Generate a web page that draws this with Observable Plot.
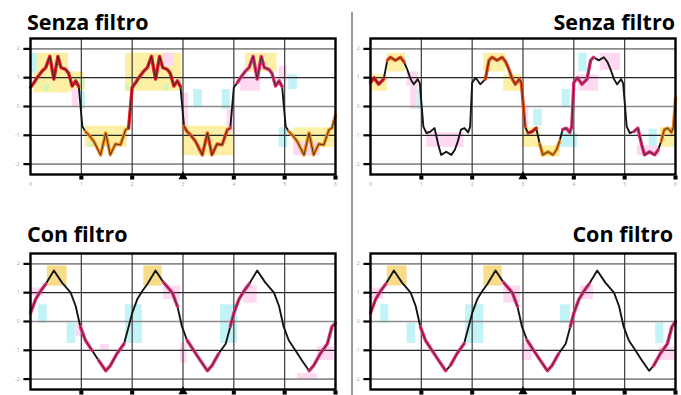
<!DOCTYPE html>
<html><head><meta charset="utf-8">
<script src="https://cdn.jsdelivr.net/npm/d3@7"></script>
<script src="https://cdn.jsdelivr.net/npm/@observablehq/plot@0.6"></script>
<style>
body{margin:0;background:#fff;}
#c{position:relative;width:681px;height:395px;overflow:hidden;font-family:"Open Sans",sans-serif;background:#fff;}
.t{position:absolute;font-weight:bold;font-size:21.5px;line-height:22px;color:#000;white-space:nowrap;}
.p{position:absolute;}
.div{position:absolute;left:351px;top:12px;width:1.5px;height:383px;background:#9a9a9a;}
</style>
</head><body><div id="c"></div>
<script>
// ---- data ----
const titlesTop = ["Senza filtro", "Senza filtro"];
const titlesBottom = ["Con filtro", "Con filtro"];
const xTicks = [0, 1, 2, 3, 4, 5, 6];
const xGrid = [1, 2, 3, 4, 5];
const xDots = [1, 2, 4, 5, 6];
const xTrigger = [3];
const yTicks = [-2, -1, 0, 1, 2];
const periodStarts = [0, 2, 4];

// top-left: one period (phase in divisions, value in divisions)
const tlPhase = [0, 0.07, 0.13, 0.23, 0.30, 0.38, 0.46, 0.54, 0.60, 0.69, 0.75, 0.82, 0.89, 0.95, 1.02, 1.08, 1.15, 1.25, 1.38, 1.48, 1.57, 1.67, 1.77, 1.87, 1.93];
const tlValue = [0.66, 0.83, 1.0, 1.23, 1.35, 1.74, 0.95, 1.74, 1.35, 1.29, 1.15, 0.71, 0.89, 0.69, -0.69, -0.87, -0.99, -1.22, -1.68, -0.92, -1.68, -1.3, -1.33, -0.81, -0.75];
const tlEnd = [6, -0.3];

// top-right
const trPhase = [0, 0.07, 0.16, 0.26, 0.33, 0.39, 0.49, 0.59, 0.66, 0.72, 0.79, 0.85, 0.93, 0.97, 1.04, 1.10, 1.18, 1.26, 1.33, 1.39, 1.49, 1.59, 1.66, 1.72, 1.78, 1.85, 1.92, 1.96];
const trValue = [0.83, 1.0, 0.77, 0.95, 1.6, 1.71, 1.6, 1.71, 1.55, 1.3, 0.95, 0.77, 0.95, 0.8, -0.7, -0.92, -0.87, -0.75, -1.3, -1.68, -1.57, -1.68, -1.5, -1.2, -0.8, -0.75, -0.9, -0.7];
const trEnd = [6, 0.3];

// bottom (filtered)
const bPhase = [0, 0.10, 0.20, 0.30, 0.46, 0.62, 0.79, 0.89, 0.98, 1.08, 1.21, 1.34, 1.48, 1.57, 1.70, 1.84, 1.93];
const bValue = [0.29, 0.77, 1.06, 1.30, 1.77, 1.35, 1.0, 0.53, -0.18, -0.65, -1.0, -1.35, -1.71, -1.53, -1.12, -0.77, -0.18];
const blEnd = [6, -0.05];
const brEnd = [6, 0.0];

// coloured trace stretches [from, to, colour class]
const tlSegs = [[0,0.95,"r"],[1.08,1.93,"o"],[1.93,2.98,"r"],[3.02,3.95,"ro"],[4.02,4.95,"m"],[5.08,6,"o"]];
const trSegs = [[0,0.26,"r"],[0.33,0.66,"ro"],[2.2,3.05,"ro"],[3.05,3.3,"r"],[3.3,3.72,"o"],[3.72,4.4,"m"],[5.15,5.7,"m"],[5.7,6,"o"]];
const blSegs = [[0,0.35,"m"],[0.92,1.31,"m"],[1.34,1.9,"m"],[2.6,2.95,"m"],[3.0,3.7,"m"],[3.87,4.4,"m"],[5.45,6,"m"]];
const brSegs = [[0,0.3,"m"],[0.95,1.5,"m"],[1.5,1.85,"m"],[2.6,2.95,"m"],[3.0,3.7,"m"],[3.85,4.4,"m"],[5.5,6,"m"]];

// highlight boxes [x1, x2, y1, y2, kind]
const tlRects = [
  [0.07,0.75,0.47,1.85,"y"],[0,0.13,1.16,1.85,"c"],[0.72,1.05,0.5,1.2,"y"],[0.26,0.39,0.53,0.76,"g"],
  [0.98,1.08,0.59,0.99,"g"],[0.82,0.95,0.0,0.6,"p"],[0.98,1.08,-0.1,0.53,"c"],
  [1.08,1.9,-1.42,-0.68,"y"],[1.15,1.25,-1.42,-1.2,"g"],
  [1.87,2.98,0.53,1.85,"y"],[1.87,1.97,0.53,0.76,"g"],[2.62,2.72,0.53,0.76,"g"],[2.62,2.82,1.39,1.85,"p"],
  [2.98,3.11,-0.79,0.47,"p"],[3.21,3.38,-0.05,0.59,"c"],[3.77,3.93,-0.1,0.59,"c"],
  [2.98,4.0,-1.71,-0.68,"y"],[3.87,4.0,-0.91,-0.1,"p"],
  [4.23,4.85,1.2,1.85,"y"],[4.13,4.52,0.53,1.04,"p"],[4.89,5.05,0.87,1.39,"p"],[5.08,5.25,0.59,1.1,"c"],
  [4.89,5.06,-1.42,-0.74,"c"],[5.18,6.0,-1.42,-0.74,"y"],[5.18,5.7,-1.71,-1.25,"p"]
];
const trRects = [
  [0,0.33,0.53,1.1,"y"],[0.33,0.69,1.2,1.85,"y"],[0.72,0.95,0.7,1.2,"p"],[0.79,0.92,-0.1,0.7,"p"],
  [0.92,1.02,-0.1,0.59,"c"],[1.11,1.84,-1.42,-0.91,"p"],
  [2.23,2.66,1.2,1.85,"y"],[2.62,2.98,0.53,1.1,"y"],[3.77,3.93,-0.05,0.59,"c"],
  [2.98,3.34,-1.42,-0.74,"y"],[3.34,3.74,-1.75,-1.36,"y"],[3.21,3.38,-0.68,-0.1,"c"],
  [3.74,4.07,-1.42,-0.91,"c"],[2.98,3.11,-0.79,0.0,"p"],
  [4.10,4.26,1.2,1.85,"c"],[4.10,4.49,0.53,1.1,"p"],[4.52,4.92,1.25,1.85,"p"],
  [5.48,5.64,-1.42,-0.79,"c"],[5.25,5.70,-1.71,-1.36,"p"],[5.70,6.0,-1.42,-0.74,"y"]
];
const blRects = [
  [0.33,0.72,1.23,1.93,"Y"],[0,0.26,0.88,1.16,"p"],[0.16,0.33,-0.06,0.58,"c"],[0.72,0.89,-0.76,-0.06,"c"],
  [0.89,1.05,-0.53,-0.06,"p"],[1.87,2.2,-0.76,0.58,"c"],[1.38,1.55,-1.0,-0.8,"p"],
  [2.23,2.59,1.23,1.93,"Y"],[2.62,2.95,0.76,1.23,"p"],[2.95,3.08,-1.46,-0.76,"p"],
  [3.74,4.07,-0.76,0.58,"c"],[4.2,4.46,0.64,1.23,"p"],[5.25,5.64,-2.05,-1.81,"p"],[5.64,5.97,-1.35,-0.88,"p"]
];
const brRects = [
  [0.33,0.72,1.23,1.93,"Y"],[0,0.26,0.76,1.16,"p"],[0.2,0.36,-0.06,0.58,"c"],[0.72,0.89,-0.76,-0.06,"c"],
  [1.87,2.23,-0.76,0.58,"c"],[2.23,2.59,1.23,1.93,"Y"],[2.62,2.95,0.64,1.23,"p"],
  [2.98,3.18,-1.35,-0.76,"p"],[3.74,3.93,-0.06,0.58,"c"],[4.13,4.39,0.76,1.23,"p"],
  [5.61,5.77,-0.76,-0.06,"c"],[5.68,6.0,-1.35,-0.88,"p"]
];

// ---- styles ----
const boxColor = {y:"#fdf0a4", Y:"#f8dc8a", c:"#c2f3f6", p:"#ffd9f1", g:"#d9f4b8"};
const traceColor = {r:"#e3222c", o:"#f08a1c", ro:"#ea521f", m:"#e2337a"};

function trace(phase, value, end) {
  const pts = [];
  for (const s of periodStarts) phase.forEach((p, i) => pts.push({x: s + p, y: value[i]}));
  pts.push({x: end[0], y: end[1]});
  return pts;
}

function panel(opts) {
  const {pts, segs, rects, width, mr, mb, height, xLabels} = opts;
  const segMarks = [];
  for (const [a, b, k] of segs) {
    const sub = pts.filter(d => d.x >= a && d.x <= b);
    segMarks.push(Plot.line(sub, {x: "x", y: "y", stroke: traceColor[k], strokeWidth: 3.4, strokeLinejoin: "round"}));
    segMarks.push(Plot.line(sub, {x: "x", y: "y", stroke: "#1a1a1a", strokeWidth: 0.9, strokeLinejoin: "round", strokeOpacity: 0.85}));
  }
  const marks = [
    Plot.rect(rects, {x1: d => d[0], x2: d => d[1], y1: d => d[2], y2: d => d[3], fill: d => boxColor[d[4]]}),
    Plot.ruleY(yTicks, {stroke: d => Math.abs(d) === 1 ? "#262626" : "#8c8c8c", strokeWidth: d => Math.abs(d) === 1 ? 1.3 : 1.6}),
    Plot.ruleX(xGrid, {stroke: "#3a3a3a", strokeWidth: 1.2}),
    Plot.line(pts, {x: "x", y: "y", stroke: "#151515", strokeWidth: 1.9, strokeLinejoin: "round"}),
    ...segMarks,
    Plot.frame({stroke: "#000", strokeWidth: 2.4}),
    Plot.ruleY(yTicks, {x1: -0.13, x2: 0, stroke: "#000", strokeWidth: 2.2}),
    Plot.text(yTicks, {x: 0, y: d => d, dx: -11, text: d => String(d), textAnchor: "end", fontSize: 5, fill: "#aaa"}),
    Plot.dot(xDots, {x: d => d, y: -2.36, dy: 3, symbol: "square", r: 2.3, fill: "#000"}),
    Plot.dot(xTrigger, {x: d => d, y: -2.36, dy: 2, symbol: "triangle", r: 3.4, fill: "#000"})
  ];
  if (xLabels) marks.push(Plot.text(xTicks, {x: d => d, y: -2.36, dy: 10, text: d => String(d), fontSize: 5, fill: "#aaa"}));
  return Plot.plot({
    width, height, marginLeft: 30, marginRight: mr, marginTop: 18, marginBottom: mb,
    x: {domain: [0, 6], axis: null},
    y: {domain: [-2.36, 2.36], axis: null},
    color: {type: "identity"},
    style: {background: "transparent", overflow: "visible"},
    marks
  });
}

const c = document.getElementById("c");
function place(el, left, top) { el.classList.add("p"); el.style.left = left + "px"; el.style.top = top + "px"; c.appendChild(el); }
function title(text, top, left, right) {
  const d = document.createElement("div"); d.className = "t"; d.textContent = text; d.style.top = top + "px";
  if (left != null) d.style.left = left + "px"; else d.style.right = right + "px";
  c.appendChild(d);
}

const divider = document.createElement("div"); divider.className = "div"; c.appendChild(divider);

place(panel({pts: trace(tlPhase, tlValue, tlEnd), segs: tlSegs, rects: tlRects, width: 345, mr: 10, mb: 20, height: 174, xLabels: true}), 0, 20);
place(panel({pts: trace(trPhase, trValue, trEnd), segs: trSegs, rects: trRects, width: 341, mr: 6, mb: 20, height: 174, xLabels: true}), 340, 20);
place(panel({pts: trace(bPhase, bValue, blEnd), segs: blSegs, rects: blRects, width: 345, mr: 10, mb: 6, height: 160, xLabels: false}), 0, 235);
place(panel({pts: trace(bPhase, bValue, brEnd), segs: brSegs, rects: brRects, width: 341, mr: 6, mb: 6, height: 160, xLabels: false}), 340, 235);

title(titlesTop[0], 10.5, 27, null);
title(titlesTop[1], 10.5, null, 6);
title(titlesBottom[0], 222.5, 27, null);
title(titlesBottom[1], 222.5, null, 8);
</script></body></html>
